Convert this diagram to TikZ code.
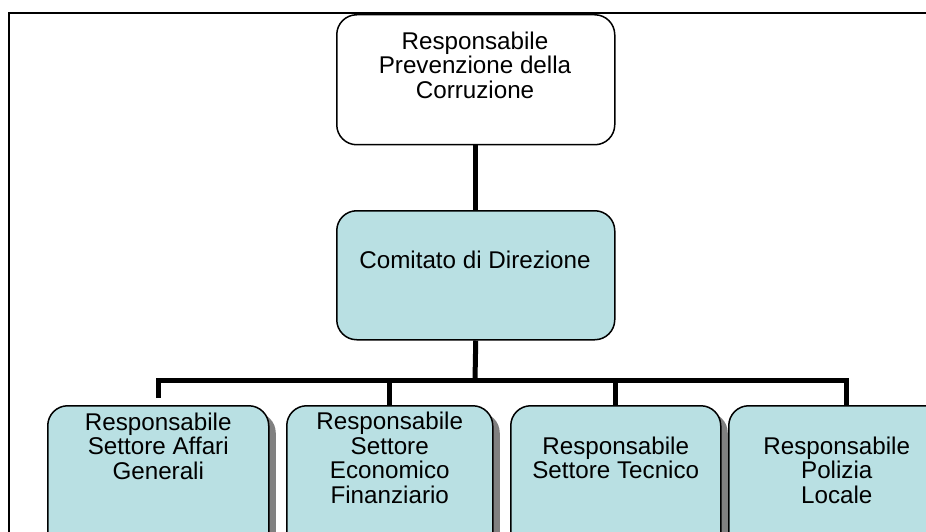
\documentclass[tikz,border=0pt]{standalone}
\usepackage{fontspec}
\setmainfont{Liberation Sans}
\usetikzlibrary{calc,shadows}
\definecolor{acqua}{RGB}{185,224,227}
\tikzset{
  box/.style={draw, line width=1.5pt, rounded corners=20pt, anchor=north west, inner sep=0pt},
  boxshadow/.style={drop shadow={shadow xshift=7pt, shadow yshift=-7pt, fill=black!50, opacity=1}},
  boxtext/.style={align=center, inner sep=0pt, font=\fontsize{24.2}{24.6}\selectfont},
  link/.style={line width=5pt},
}

\begin{document}
\begin{tikzpicture}[x=1pt,y=-1pt]
\useasboundingbox (0,0) rectangle (926,532);
\clip (0,0) rectangle (926,532);

% outer frame
\draw[line width=2.5pt] (9,600) -- (9,13) -- (1000,13);

\node[box, fill=white, minimum width=278pt, minimum height=130pt] (resp) at (336,14) {};
\node[boxtext] (resptext) at (475,65) {Responsabile\\Prevenzione della\\Corruzione};

\node[box, fill=acqua, minimum width=278pt, minimum height=129pt] (comitato) at (336,210) {};
\node[boxtext] (comtext) at (475,260) {Comitato di Direzione};

% bottom row
\foreach \x/\w/\ty/\t [count=\i] in {
    47/221/446/{Responsabile\\Settore Affari\\Generali},
    286/206/458/{Responsabile\\Settore\\Economico\\Finanziario},
    510/210/458/{Responsabile\\Settore Tecnico},
    728/216/470/{Responsabile\\Polizia\\Locale}} {
  \node[box, boxshadow, fill=acqua, minimum width=\w pt, minimum height=160pt] (p\i) at (\x,405) {};
  \node[boxtext] (t\i) at ($(p\i.north)+(0,\ty-405)$) {\t};
}

% connectors
\coordinate (bar) at (475,380);
\coordinate (barl) at (158,380);
\coordinate (barr) at (846,380);
\coordinate (d1) at (158,398);
\draw[link] (resp.south) -- (comitato.north);
\draw[link] (comitato.south) -- (bar);
\draw[link] (d1) -- (barl) -- (barr) -- (barr |- p4.north);
\draw[link] (p2.north |- bar) -- (p2.north);
\draw[link] (p3.north |- bar) -- (p3.north);
\end{tikzpicture}
\end{document}
